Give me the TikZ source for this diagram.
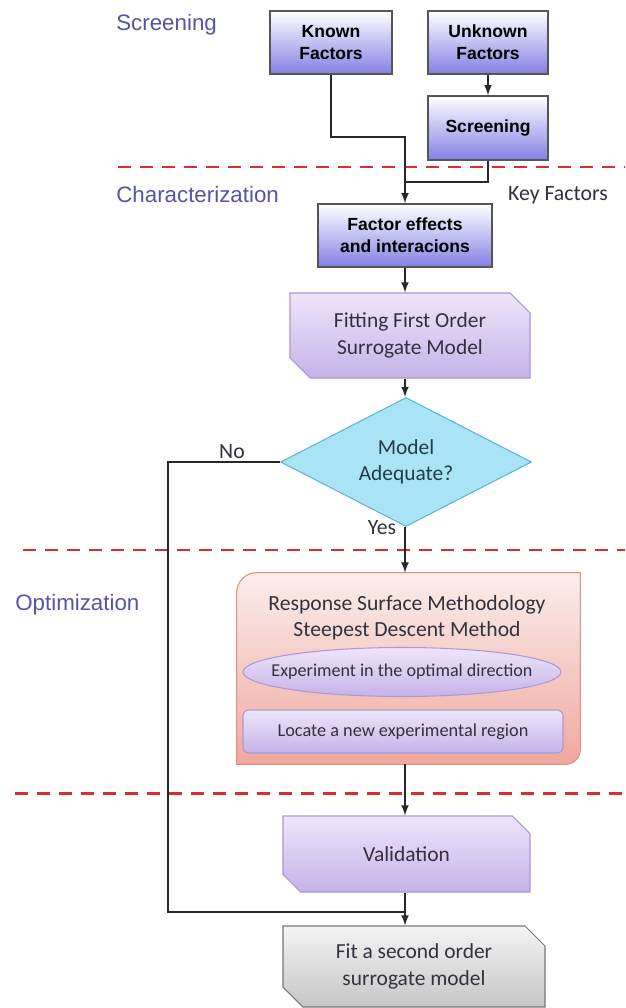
\documentclass[tikz,border=0pt]{standalone}
\usepackage{fontspec}
\setmainfont{Carlito}
\newfontfamily\arialfont{Liberation Sans}
\usetikzlibrary{arrows,calc,positioning,shapes}
\definecolor{stageblue}{RGB}{85,85,165}
\definecolor{sepred}{RGB}{220,45,45}
\definecolor{linkgray}{RGB}{40,40,40}
\definecolor{boxgray}{RGB}{85,85,85}
\definecolor{factorblue}{RGB}{132,128,228}
\definecolor{steptop}{RGB}{238,230,250}
\definecolor{stepbot}{RGB}{198,178,232}
\definecolor{stepline}{RGB}{172,152,212}
\definecolor{askfill}{RGB}{168,228,245}
\definecolor{askline}{RGB}{95,180,210}
\definecolor{asktext}{RGB}{35,60,72}
\definecolor{rsmtop}{RGB}{250,238,236}
\definecolor{rsmbot}{RGB}{240,168,158}
\definecolor{rsmline}{RGB}{226,142,132}
\definecolor{endtop}{RGB}{244,244,244}
\definecolor{endbot}{RGB}{198,198,198}
\definecolor{endline}{RGB}{120,120,120}
\definecolor{darktext}{RGB}{50,50,62}

\tikzset{
  stagelabel/.style={text=stageblue,font=\arialfont\fontsize{12.7}{15}\selectfont,inner sep=0pt},
  textlabel/.style={text=darktext,font=\fontsize{12.4}{15}\selectfont,inner sep=0pt},
  sep/.style={draw=sepred,line width=1.7pt,dash pattern=on 0.26cm off 0.18cm},
  link/.style={->,>=latex,draw=linkgray,line width=1pt},
  plain/.style={draw=linkgray,line width=1pt},
  factorbox/.style={rectangle,draw=boxgray,line width=0.9pt,top color=white,bottom color=factorblue,
    minimum width=2.4cm,minimum height=1.26cm,inner sep=0pt,align=center,
    font=\arialfont\bfseries\fontsize{10}{12.5}\selectfont},
  stepbox/.style={chamfered rectangle,chamfered rectangle corners={north east,south west},
    chamfered rectangle xsep=0.2cm,chamfered rectangle ysep=0.2cm,
    draw=stepline,line width=0.6pt,top color=steptop,bottom color=stepbot,text=darktext,
    minimum width=4.8cm,minimum height=1.7cm,inner sep=0pt,align=center,
    font=\fontsize{12.2}{15.5}\selectfont},
  finalbox/.style={stepbox,draw=endline,top color=endtop,bottom color=endbot,
    minimum width=5.24cm,minimum height=1.62cm,font=\fontsize{12.2}{15}\selectfont},
  decision/.style={diamond,aspect=1.95,draw=askline,line width=0.6pt,fill=askfill,text=asktext,
    minimum width=5.02cm,minimum height=2.58cm,inner sep=0pt,align=center,
    font=\fontsize{12.2}{15}\selectfont},
  expellipse/.style={draw=stepline,line width=0.6pt,top color=steptop,bottom color=stepbot},
  innerbox/.style={rectangle,rounded corners=0.12cm,draw=stepline,line width=0.6pt,
    top color=steptop,bottom color=stepbot,text=darktext,
    minimum width=6.4cm,minimum height=0.86cm,inner sep=0pt,font=\fontsize{10.4}{12}\selectfont}
}

\begin{document}
\begin{tikzpicture}
\useasboundingbox[fill=white] (0,0) rectangle (12.5,-20.16);
% stages
\node[stagelabel,anchor=west] (lscreen) at (2.32,-0.5) {Screening};
\node[stagelabel,anchor=west] (lchar) at (2.32,-3.9) {Characterization};
\node[stagelabel,anchor=west] (lopt) at (0.3,-12.1) {Optimization};
\node[textlabel] (keyf) at (11.16,-3.9) {Key Factors};
\draw[sep] (2.36,-3.34) -- (12.5,-3.34);
\draw[sep] (0.46,-11) -- (12.5,-11);
\draw[sep] (0.3,-15.86) -- (12.5,-15.86);
% boxes
\node[factorbox,minimum width=2.44cm] (known) at (6.62,-0.85) {Known\\Factors};
\node[factorbox] (unknown) at (9.76,-0.85) {Unknown\\Factors};
\node[factorbox,minimum height=1.28cm] (screen) at (9.76,-2.56) {Screening};
\node[factorbox,minimum width=3.48cm] (effects) at (8.1,-4.71) {Factor effects\\and interacions};
\node[stepbox] (firstorder) at (8.2,-6.71) {Fitting First Order\\Surrogate Model};
\node[decision] (adequate) at (8.12,-9.24) {Model\\Adequate?};
\node[minimum width=6.86cm,minimum height=3.82cm,inner sep=0pt] (rsm) at (8.17,-13.37) {};
\shade[top color=rsmtop,bottom color=rsmbot,draw=rsmline,line width=0.6pt]
  (rsm.south west) -- ([yshift=-0.4cm]rsm.north west) arc[start angle=180,end angle=90,radius=0.4cm]
  -- (rsm.north east) -- ([yshift=0.3cm]rsm.south east) arc[start angle=0,end angle=-90,radius=0.3cm]
  -- cycle;
\node[textlabel,align=center,font=\fontsize{12.3}{14.5}\selectfont] (rsmtitle) at (8.14,-12.35)
  {Response Surface Methodology\\Steepest Descent Method};
\coordinate (dirc) at (8.04,-13.44);
\shade[expellipse] (dirc) ellipse [x radius=3.18cm,y radius=0.49cm];
\node[textlabel,font=\fontsize{10.3}{12}\selectfont] (direction) at (dirc) {Experiment in the optimal direction};
\node[innerbox] (region) at (8.06,-14.63) {Locate a new experimental region};
\node[stepbox,minimum width=4.94cm,minimum height=1.52cm] (validation) at (8.13,-17.08) {Validation};
\node[finalbox] (secondorder) at (8.28,-19.33) {Fit a second order\\surrogate model};
\node[textlabel] (no) at (4.64,-9.04) {No};
\node[textlabel] (yes) at (7.64,-10.56) {Yes};
% connectors
\coordinate (col) at (8.1,0);
\coordinate (kbend) at (8.1,-2.74);
\coordinate (sjoin) at (8.1,-3.64);
\coordinate (noturn) at (3.36,-18.24);
\coordinate (nojoin) at (8.1,-18.24);
\draw[link] (unknown.south) -- (screen.north);
\draw[link] (known.south) |- (kbend) -- (effects.north);
\draw[plain] (screen.south) |- (sjoin);
\draw[link] (effects.south) -- (firstorder.north -| col);
\draw[link] (firstorder.south -| col) -- (adequate.north -| col);
\draw[link] (adequate.south -| col) -- (rsm.north -| col);
\draw[link] (rsm.south -| col) -- (validation.north -| col);
\draw[link] (validation.south -| col) -- (secondorder.north -| col);
\draw[plain] (adequate.west) -| (noturn) -- (nojoin);
\end{tikzpicture}
\end{document}
